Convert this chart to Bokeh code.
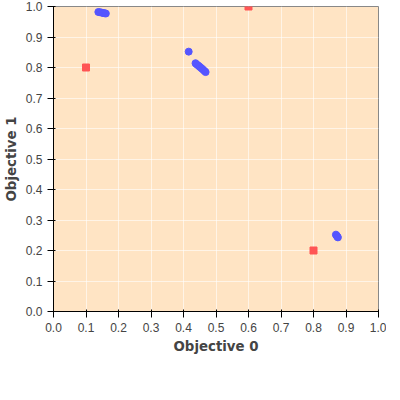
from bokeh.plotting import figure
from bokeh.embed import file_html
from bokeh.resources import INLINE
from bokeh.models import Legend, FixedTicker, NumeralTickFormatter

ref_x = [0.1, 0.6, 0.8]
ref_y = [0.8, 1.0, 0.2]
nsga_x = [0.138, 0.143, 0.148, 0.152, 0.157, 0.161,
          0.416, 0.437, 0.441, 0.446, 0.450, 0.455, 0.459, 0.464, 0.468,
          0.869, 0.871, 0.873, 0.875]
nsga_y = [0.982, 0.981, 0.980, 0.979, 0.978, 0.977,
          0.852, 0.814, 0.810, 0.806, 0.802, 0.798, 0.794, 0.789, 0.785,
          0.252, 0.249, 0.246, 0.243]
ticks = [i / 10 for i in range(11)]

p = figure(frame_width=325, frame_height=305, x_range=(0, 1), y_range=(0, 1),
           output_backend="svg", toolbar_location=None,
           background_fill_color="#FFE4C4", min_border_right=8, min_border_top=6,
           min_border_left=4, min_border_bottom=4)
p.grid.grid_line_color = "white"
p.grid.grid_line_alpha = 0.6
p.outline_line_color = "#888888"
for ax in (p.xaxis, p.yaxis):
    ax.ticker = FixedTicker(ticks=ticks)
    ax.formatter = NumeralTickFormatter(format="0.0")
    ax.major_label_text_font_size = "9pt"
    ax.major_label_text_color = "#444444"
    ax.axis_label_text_font_style = "bold"
    ax.axis_label_text_font_size = "10pt"
    ax.axis_label_text_font = "DejaVu Sans"
    ax.minor_tick_line_color = None
    ax.axis_label_standoff = 4
p.xaxis.axis_label = "Objective 0"
p.yaxis.axis_label = "Objective 1"

r1 = p.scatter(ref_x, ref_y, marker="square", size=7, color="#FF5555")
r2 = p.scatter(nsga_x, nsga_y, marker="circle", size=7, color="#5555FF")
leg = Legend(items=[("Reference Points", [r1]), ("R-NSGA-II w/ Epsilon=1.0E-6", [r2])],
             orientation="horizontal", location="center", border_line_color=None,
             background_fill_alpha=0,
             label_text_font_size="8pt", glyph_width=10, spacing=16, padding=2, margin=2)
p.add_layout(leg, "below")

open("out.html", "w").write(file_html(p, INLINE))
